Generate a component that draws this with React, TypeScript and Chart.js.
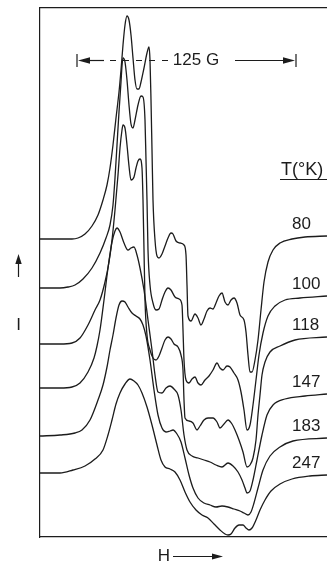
import React, { useEffect, useRef } from "react";
import { Chart, registerables } from "chart.js";

Chart.register(...registerables);

// Temperatures (°K) of the six stacked EPR derivative spectra, top to bottom
const temperatures = ["80", "100", "118", "147", "183", "247"];
// Vertical offset of each spectrum's baseline (arbitrary intensity units)
const offsets = [298, 249, 193, 149, 101, 64];

// Magnetic field H (arbitrary units) and derivative signal relative to baseline
const field80 = [40,60,72,78,85,92,98,103,107,110,113,116,119,121,123,125,127,129,131,133,135,137,139,141,144,147,149,150,151,152,153,155,157,159,162,165,168,171,173,176,180,184,186,187,188,191,195,198,201,204,207,210,213,216,219,222,225,228,231,234,237,240,244,246,248,250,252,255,258,261,264,268,273,280,292,305,327];
const signal80 = [0,0,0,1,5,13,24,39,54,71,94,121,147,169,194,214,223,219,204,181,159,150,150,157,171,186,192,179,139,89,39,-1,-17,-19,-15,-7,1,6,5,-2,-4,-6,-16,-46,-77,-82,-75,-79,-86,-80,-72,-69,-70,-64,-57,-54,-63,-66,-61,-59,-64,-76,-81,-93,-116,-133,-133,-121,-101,-71,-43,-23,-11,-4,0,2,3];

const field100 = [40,60,68,75,83,92,100,106,110,113,115,117,119,121,122,123,125,127,129,131,133,135,138,141,143,145,146,147,148,150,153,156,159,162,165,168,171,175,179,182,183,184,186,189,192,195,198,201,205,209,213,217,220,223,227,230,234,238,241,244,247,250,253,256,259,263,268,275,285,300,327];
const signal100 = [0,0,1,3,9,20,35,50,63,83,110,143,176,206,222,230,226,208,183,164,160,168,183,192,191,168,128,88,38,3,-15,-22,-21,-12,-4,0,-2,-9,-11,-17,-42,-72,-92,-95,-91,-89,-95,-97,-92,-88,-82,-75,-80,-82,-78,-79,-85,-92,-104,-122,-142,-137,-117,-92,-67,-45,-28,-18,-12,-10,-8];

const field118 = [40,60,72,80,88,95,100,105,109,112,115,118,120,122,123,125,127,129,131,134,136,138,140,142,143,144,145,147,150,153,156,159,162,165,168,171,174,178,181,183,184,185,189,193,197,200,204,208,213,217,220,224,228,232,235,239,243,247,250,253,256,258,260,262,265,270,280,295,327];
const signal118 = [0,0,1,6,19,34,44,62,82,104,134,169,196,214,219,216,199,178,164,167,176,183,185,176,144,94,44,9,-6,-14,-16,-12,-4,4,7,5,0,-3,-11,-26,-56,-74,-77,-79,-86,-82,-76,-74,-74,-78,-84,-80,-76,-80,-86,-96,-108,-123,-121,-114,-96,-71,-51,-31,-18,-8,-2,4,7];

const field147 = [40,60,72,80,88,94,97,100,104,108,112,115,117,120,124,128,131,134,137,140,144,148,152,155,158,162,166,170,174,178,181,184,187,192,198,204,210,216,222,228,233,238,242,245,247,250,253,257,262,267,273,285,305,327];
const signal147 = [0,0,1,5,16,30,42,58,88,120,146,157,160,156,145,138,140,141,133,120,98,68,38,13,-4,-5,0,2,-1,-7,-22,-47,-62,-68,-70,-72,-74,-77,-79,-75,-78,-84,-92,-100,-105,-103,-92,-72,-47,-27,-17,-11,-8,-6];

const field183 = [40,60,75,82,90,98,103,107,110,113,116,119,122,125,128,132,136,140,143,146,150,154,158,162,166,170,173,177,181,185,189,193,198,204,210,216,222,228,234,240,244,248,251,254,258,263,270,280,293,327];
const signal183 = [0,1,3,6,16,36,51,69,86,101,118,131,135,134,129,123,120,117,111,100,76,46,21,8,4,5,6,2,-6,-22,-39,-52,-62,-67,-69,-71,-70,-71,-73,-75,-77,-79,-76,-67,-52,-34,-20,-11,-5,-2];

const field247 = [40,60,73,85,95,103,108,112,116,120,125,130,134,138,142,147,152,157,161,165,170,175,180,185,190,196,202,208,214,220,225,228,231,235,239,243,246,249,252,256,260,265,271,280,292,310,327];
const signal247 = [0,0,3,7,14,23,38,53,69,80,89,94,92,88,80,66,48,28,13,6,4,1,-7,-19,-29,-37,-42,-45,-51,-57,-61,-62,-61,-55,-52,-52,-55,-57,-55,-47,-37,-27,-18,-11,-6,-3,-2];

const fields = [field80, field100, field118, field147, field183, field247];
const signals = [signal80, signal100, signal118, signal147, signal183, signal247];

const INK = "#1c1c1c";
const FONT = "17px 'Liberation Sans', Arial, sans-serif";
const HEADER_FONT = "18px 'Liberation Sans', Arial, sans-serif";

function arrowHead(ctx: CanvasRenderingContext2D, tipX: number, tipY: number, dx: number, dy: number, len: number, half: number) {
  const bx = tipX - dx * len;
  const by = tipY - dy * len;
  const px = -dy, py = dx;
  ctx.beginPath();
  ctx.moveTo(tipX, tipY);
  ctx.lineTo(bx + px * half, by + py * half);
  ctx.lineTo(bx - px * half, by - py * half);
  ctx.closePath();
  ctx.fill();
}

function line(ctx: CanvasRenderingContext2D, x1: number, y1: number, x2: number, y2: number) {
  ctx.beginPath();
  ctx.moveTo(x1, y1);
  ctx.lineTo(x2, y2);
  ctx.stroke();
}

const annotate = {
  id: "annotate",
  afterDraw(chart: any) {
    const { ctx, scales } = chart;
    const xs = scales.x;
    const ys = scales.y;
    ctx.save();
    ctx.fillStyle = INK;
    ctx.strokeStyle = INK;
    ctx.font = FONT;
    ctx.textBaseline = "middle";

    // temperature labels near right end of each spectrum
    ctx.textAlign = "left";
    temperatures.forEach((t, i) => {
      const s = signals[i];
      const yEnd = ys.getPixelForValue(offsets[i] + s[s.length - 1]);
      ctx.fillText(t, xs.getPixelForValue(292), yEnd - 12);
    });

    // T(°K) header, underlined
    ctx.font = HEADER_FONT;
    ctx.fillText("T(°K)", xs.getPixelForValue(281), 170);
    ctx.font = FONT;
    ctx.lineWidth = 1.2;
    line(ctx, xs.getPixelForValue(280), 179.5, xs.getPixelForValue(327), 179.5);

    // 125 G scale bar
    const yb = 60.5;
    const xl = xs.getPixelForValue(77);
    const xr = xs.getPixelForValue(296);
    ctx.lineWidth = 1.2;
    line(ctx, xl, 54, xl, 67);
    line(ctx, xr, 54, xr, 67);
    arrowHead(ctx, xl + 1, yb, -1, 0, 12, 3.2);
    line(ctx, xl + 10, yb, xs.getPixelForValue(104), yb);
    ctx.setLineDash([6, 7]);
    line(ctx, xs.getPixelForValue(110), yb, xs.getPixelForValue(168), yb);
    ctx.setLineDash([]);
    line(ctx, xs.getPixelForValue(235), yb, xr - 10, yb);
    arrowHead(ctx, xr - 1, yb, 1, 0, 12, 3.2);
    ctx.textAlign = "center";
    ctx.fillText("125 G", xs.getPixelForValue(196), yb);

    // intensity arrow on the left
    ctx.lineWidth = 1.2;
    line(ctx, 18.5, 277, 18.5, 262);
    arrowHead(ctx, 18.5, 254, 0, -1, 10, 3.2);
    ctx.fillText("I", 18.5, 325);

    // field arrow at the bottom
    ctx.fillText("H", 164, 556);
    line(ctx, 173, 556.5, 214, 556.5);
    arrowHead(ctx, 223, 556.5, 1, 0, 11, 3);

    ctx.restore();
  },
};

export default function App() {
  const ref = useRef<HTMLCanvasElement>(null);

  useEffect(() => {
    const canvas = ref.current;
    if (!canvas) return;
    const datasets = temperatures.map((t, i) => ({
      label: `${t} K`,
      data: fields[i].map((x, j) => ({ x, y: offsets[i] + signals[i][j] })),
      borderColor: INK,
      borderWidth: 1.3,
      pointRadius: 0,
      fill: false,
      cubicInterpolationMode: "monotone" as const,
    }));
    const hiddenAxis = {
      type: "linear" as const,
      ticks: { display: false },
      grid: { display: false, drawTicks: false },
      border: { display: true, color: INK, width: 1.2 },
    };
    const chart = new Chart(canvas, {
      type: "line",
      data: { datasets },
      options: {
        responsive: false,
        animation: false,
        layout: { padding: { left: 40, right: 0, top: 8, bottom: 25 } },
        plugins: { legend: { display: false }, tooltip: { enabled: false } },
        scales: {
          x: { ...hiddenAxis, position: "bottom", min: 40, max: 327, afterFit: (s: any) => { s.height = 0; } },
          xTop: { ...hiddenAxis, position: "top", min: 40, max: 327, afterFit: (s: any) => { s.height = 0; } },
          y: { ...hiddenAxis, position: "left", min: 0, max: 529, afterFit: (s: any) => { s.width = 0; } },
        },
      } as any,
      plugins: [annotate],
    });
    return () => chart.destroy();
  }, []);

  return (
    <canvas
      ref={ref}
      width={327}
      height={562}
      style={{ position: "absolute", left: 0, top: 0, display: "block", background: "#fff" }}
    />
  );
}
